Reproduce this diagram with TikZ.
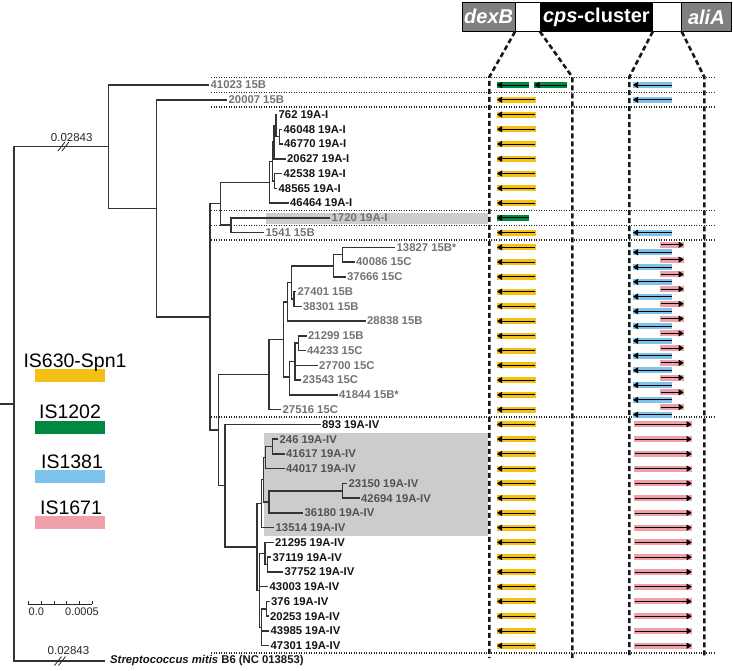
\documentclass[tikz,border=0pt]{standalone}
\usepackage{fontspec}
\setmainfont{Liberation Sans}
\usetikzlibrary{arrows.meta,positioning}

\definecolor{isyel}{RGB}{245,192,20}
\definecolor{isgreen}{RGB}{0,135,65}
\definecolor{isblue}{RGB}{125,195,235}
\definecolor{ispink}{RGB}{240,160,168}
\definecolor{hlgray}{RGB}{204,204,204}
\definecolor{hgray}{RGB}{128,128,128}
\colorlet{labgrey}{black!55}
\colorlet{labshade}{black!68}
\colorlet{labblack}{black!92}

% y position of a tree row
\newcommand{\ry}[1]{85+14.755*(#1)}

\begin{document}
\begin{tikzpicture}[
x=1pt, y=-1pt,
branch/.style={draw=black!80, line width=1.5pt},
leaf/.style={inner sep=0pt, font=\fontsize{11.3}{13}\selectfont\bfseries},
sep/.style={draw=black!85, line width=1.3pt, dash pattern=on 1.3pt off 1.2pt},
colline/.style={draw=black!90, line width=2.6pt, dash pattern=on 5pt off 3pt},
isbar/.style={draw=#1, line width=6pt},
garrow/.style={draw=black, line width=0.8pt, -{Triangle[length=5pt,width=6pt]}},
hbox/.style={draw=black, line width=0.6pt, minimum height=29.7pt, inner sep=0pt, outer sep=0pt, text=white, font=\fontsize{20}{22}\selectfont\bfseries},
legtxt/.style={font=\fontsize{19.5}{22}\selectfont, inner sep=0pt, anchor=base},
legbar/.style={minimum width=70pt, minimum height=13pt, inner sep=0pt},
brlab/.style={font=\fontsize{11.5}{13}\selectfont, text=black!85, inner sep=0pt}
]
\useasboundingbox (0,0) rectangle (733,670);

% shaded groups
\fill[hlgray] (266,213.3) rectangle (488.3,224);
\fill[hlgray] (264.3,433.3) rectangle (488,536);

% header
\node[hbox, fill=hgray, minimum width=52.7pt, anchor=north west] (dexb) at (462.3,2) {\textit{dexB}};
\node[hbox, fill=white, minimum width=25pt, right=0pt of dexb] (gap1) {};
\node[hbox, fill=black, minimum width=112.7pt, right=0pt of gap1] (cps) {\textit{cps}-cluster};
\node[hbox, fill=white, minimum width=29pt, right=0pt of cps] (gap2) {};
\node[hbox, fill=hgray, minimum width=49.3pt, right=0pt of gap2] (alia) {\textit{aliA}};

% separators
\foreach \r in {-0.5,0.5,1.5,8.5,9.5,10.5,22.5,38.5}
  \draw[sep] (211,{\ry{\r}}) -- (714,{\ry{\r}});

% columns
\coordinate (c1top) at (489.3,77);  \coordinate (c1bot) at (489.3,658);
\coordinate (c2top) at (572.3,77);  \coordinate (c2bot) at (572.3,658);
\coordinate (c3top) at (629.3,77);  \coordinate (c3bot) at (629.3,658);
\coordinate (c4top) at (704.3,77);  \coordinate (c4bot) at (704.3,658);
\draw[colline] (gap1.south west) -- (c1top) -- (c1bot);
\draw[colline] (gap1.south east) -- (c2top) -- (c2bot);
\draw[colline] (gap2.south west) -- (c3top) -- (c3bot);
\draw[colline] (gap2.south east) -- (c4top) -- (c4bot);

% leaves
\foreach \r/\x/\c/\t in {
  0/209/labgrey/41023 15B,
  1/227/labgrey/20007 15B,
  2/277/labblack/762 19A-I,
  3/282/labblack/46048 19A-I,
  4/282.5/labblack/46770 19A-I,
  5/285.5/labblack/20627 19A-I,
  6/282/labblack/42538 19A-I,
  7/277/labblack/48565 19A-I,
  8/288.5/labblack/46464 19A-I,
  9/330/labgrey/1720 19A-I,
  10/264/labgrey/1541 15B,
  11/395/labgrey/13827 15B*,
  12/354.5/labgrey/40086 15C,
  13/345.5/labgrey/37666 15C,
  14/296/labgrey/27401 15B,
  15/301.5/labgrey/38301 15B,
  16/365.5/labgrey/28838 15B,
  17/306.5/labgrey/21299 15B,
  18/305.5/labgrey/44233 15C,
  19/317.5/labgrey/27700 15C,
  20/301/labgrey/23543 15C,
  21/337.5/labgrey/41844 15B*,
  22/281/labgrey/27516 15C,
  23/320.5/labblack/893 19A-IV,
  24/278/labshade/246 19A-IV,
  25/284.5/labshade/41617 19A-IV,
  26/284.5/labshade/44017 19A-IV,
  27/347/labshade/23150 19A-IV,
  28/359.5/labshade/42694 19A-IV,
  29/303/labshade/36180 19A-IV,
  30/274/labshade/13514 19A-IV,
  31/273.5/labblack/21295 19A-IV,
  32/271/labblack/37119 19A-IV,
  33/283/labblack/37752 19A-IV,
  34/268/labblack/43003 19A-IV,
  35/269.5/labblack/376 19A-IV,
  36/268.5/labblack/20253 19A-IV,
  37/269/labblack/43985 19A-IV,
  38/269/labblack/47301 19A-IV}{
  \coordinate (t\r) at (\x,{\ry{\r}});
  \node[leaf, text=\c, right=1.5pt of t\r] (l\r) {\t};
}
\coordinate (tS) at (105,661);
\node[leaf, text=labblack, right=5pt of tS] (lS) {\textit{Streptococcus mitis} B6 (NC 013853)};

% internal nodes
\coordinate (nB) at (279.5,{\ry{3.5}});
\coordinate (nA) at (275.8,{\ry{2.75}});
\coordinate (nC) at (274,{\ry{3.875}});
\coordinate (nD) at (274.3,{\ry{6.5}});
\coordinate (nE) at (272.3,{\ry{5.1875}});
\coordinate (nF) at (269.3,{\ry{6.594}});
\coordinate (nI) at (231,{\ry{9.5}});
\coordinate (nH) at (220.7,{\ry{8.047}});
\coordinate (q1) at (342.7,{\ry{11.5}});
\coordinate (q2) at (333.3,{\ry{12.25}});
\coordinate (q3) at (294,{\ry{14.5}});
\coordinate (q4) at (291.7,{\ry{13.375}});
\coordinate (q5) at (287.7,{\ry{14.69}});
\coordinate (q6) at (298.3,{\ry{17.5}});
\coordinate (q7) at (295,{\ry{18.75}});
\coordinate (q8) at (289.3,{\ry{19.8}});
\coordinate (q9) at (283.3,{\ry{17.245}});
\coordinate (nK) at (269,{\ry{19.62}});
\coordinate (v1) at (272.7,{\ry{24.5}});
\coordinate (v2) at (265.7,{\ry{25.25}});
\coordinate (v3) at (342.7,{\ry{27.5}});
\coordinate (v4) at (269,{\ry{28.25}});
\coordinate (v5) at (263.5,{\ry{26.75}});
\coordinate (v6) at (261.5,{\ry{28.375}});
\coordinate (w1) at (267.3,{\ry{32.5}});
\coordinate (w2) at (265,{\ry{31.75}});
\coordinate (w3) at (266.5,{\ry{35.5}});
\coordinate (w4) at (261.7,{\ry{36.75}});
\coordinate (w5) at (259.3,{\ry{34.25}});
\coordinate (nM) at (257,{\ry{31.3125}});
\coordinate (nL) at (225,{\ry{27.156}});
\coordinate (nKK) at (218.3,{\ry{23.39}});
\coordinate (nJ) at (210,{\ry{15.72}});
\coordinate (nN2) at (156.7,{\ry{8.36}});
\coordinate (nN1) at (108.3,{\ry{4.18}});
\coordinate (root) at (14,403.9);
\coordinate (rstub) at (0,403.9);

% branches
\draw[branch] (nB) |- (t3) (nB) |- (t4);
\draw[branch] (nA) |- (t2) (nA) |- (nB);
\draw[branch] (nC) |- (nA) (nC) |- (t5);
\draw[branch] (nD) |- (t6) (nD) |- (t7);
\draw[branch] (nE) |- (nC) (nE) |- (nD);
\draw[branch] (nF) |- (nE) (nF) |- (t8);
\draw[branch] (nI) |- (t9) (nI) |- (t10);
\draw[branch] (nH) |- (nF) (nH) |- (nI);
\draw[branch] (q1) |- (t11) (q1) |- (t12);
\draw[branch] (q2) |- (q1) (q2) |- (t13);
\draw[branch] (q3) |- (t14) (q3) |- (t15);
\draw[branch] (q4) |- (q2) (q4) |- (q3);
\draw[branch] (q5) |- (q4) (q5) |- (t16);
\draw[branch] (q6) |- (t17) (q6) |- (t18);
\draw[branch] (q7) |- (q6) (q7) |- (t19) (q7) |- (t20);
\draw[branch] (q8) |- (q7) (q8) |- (t21);
\draw[branch] (q9) |- (q5) (q9) |- (q8);
\draw[branch] (nK) |- (q9) (nK) |- (t22);
\draw[branch] (v1) |- (t24) (v1) |- (t25);
\draw[branch] (v2) |- (v1) (v2) |- (t26);
\draw[branch] (v3) |- (t27) (v3) |- (t28);
\draw[branch] (v4) |- (v3) (v4) |- (t29);
\draw[branch] (v5) |- (v2) (v5) |- (v4);
\draw[branch] (v6) |- (v5) (v6) |- (t30);
\draw[branch] (w1) |- (t32) (w1) |- (t33);
\draw[branch] (w2) |- (t31) (w2) |- (w1);
\draw[branch] (w3) |- (t35) (w3) |- (t36);
\draw[branch] (w4) |- (w3) (w4) |- (t37) (w4) |- (t38);
\draw[branch] (w5) |- (w2) (w5) |- (t34) (w5) |- (w4);
\draw[branch] (nM) |- (v6) (nM) |- (w5);
\draw[branch] (nL) |- (t23) (nL) |- (nM);
\draw[branch] (nKK) |- (nK) (nKK) |- (nL);
\draw[branch] (nJ) |- (nH) (nJ) |- (nKK);
\draw[branch] (nN2) |- (t1) (nN2) |- (nJ);
\draw[branch] (nN1) |- (t0) (nN1) |- (nN2);
\draw[branch] (root) |- (nN1) (root) |- (tS) (rstub) -- (root);

% broken branches
\coordinate (brk1) at (63.3,{\ry{4.18}});
\coordinate (brk2) at (60,661);
\foreach \b in {brk1,brk2}{
  \draw[black!85, line width=0.8pt] ([shift={(-5.5,4.5)}]\b) -- ++(7,-9);
  \draw[black!85, line width=0.8pt] ([shift={(-1.5,4.5)}]\b) -- ++(7,-9);
}
\node[brlab] (br1) at (71.7,137.2) {0.02843};
\node[brlab] (br2) at (68.5,650.5) {0.02843};

% IS elements
\foreach \r in {1,2,...,8,10,11,...,38}{
  \draw[isbar=isyel] (496.7,{\ry{\r}}) -- (535.7,{\ry{\r}});
  \draw[garrow] (535.2,{\ry{\r}}) -- (497,{\ry{\r}});
}
\draw[isbar=isgreen] (496.7,{\ry{0}}) -- (529,{\ry{0}});
\draw[garrow] (528.5,{\ry{0}}) -- (497,{\ry{0}});
\draw[isbar=isgreen] (534.3,{\ry{0}}) -- (567.3,{\ry{0}});
\draw[garrow] (566.8,{\ry{0}}) -- (534.6,{\ry{0}});
\draw[isbar=isgreen] (496.7,{\ry{9}}) -- (529,{\ry{9}});
\draw[garrow] (528.5,{\ry{9}}) -- (497,{\ry{9}});
\foreach \r in {0,1,10}{
  \draw[isbar=isblue] (632.7,{\ry{\r}}) -- (672.3,{\ry{\r}});
  \draw[garrow] (671.8,{\ry{\r}}) -- (633,{\ry{\r}});
}
\foreach \r in {11,...,22}{
  \draw[isbar=ispink] (660,{\ry{\r}-2.5}) -- (684,{\ry{\r}-2.5});
  \draw[garrow] (660.5,{\ry{\r}-2.5}) -- (683.7,{\ry{\r}-2.5});
  \draw[isbar=isblue] (632.7,{\ry{\r}+5}) -- (672.3,{\ry{\r}+5});
  \draw[garrow] (671.8,{\ry{\r}+5}) -- (633,{\ry{\r}+5});
}
\foreach \r in {23,...,38}{
  \draw[isbar=ispink] (634,{\ry{\r}}) -- (692,{\ry{\r}});
  \draw[garrow] (634.5,{\ry{\r}}) -- (691.7,{\ry{\r}});
}

% legend
\node[legbar, fill=isyel] (lb1) at (70,375.8) {};
\node[legbar, fill=isgreen] (lb2) at (70,427) {};
\node[legbar, fill=isblue] (lb3) at (70,476.2) {};
\node[legbar, fill=ispink] (lb4) at (70,522.2) {};
\node[legtxt] (lt1) at (75,367.3) {IS630-Spn1};
\node[legtxt] (lt2) at (70,418.3) {IS1202};
\node[legtxt] (lt3) at (72,468.3) {IS1381};
\node[legtxt] (lt4) at (71,514.3) {IS1671};

% scale bar
\coordinate (sb0) at (28.3,604);
\coordinate (sb1) at (92.3,604);
\draw[black!85, line width=0.8pt] (sb0) -- (sb1);
\foreach \i in {0,...,5}
  \draw[black!85, line width=0.8pt] ([xshift=\i*12.8pt]sb0) -- ++(0,-3.5);
\node[brlab, font=\fontsize{11}{13}\selectfont] (sl0) at (36.3,612) {0.0};
\node[brlab, font=\fontsize{11}{13}\selectfont] (sl1) at (82,612) {0.0005};
\end{tikzpicture}
\end{document}
